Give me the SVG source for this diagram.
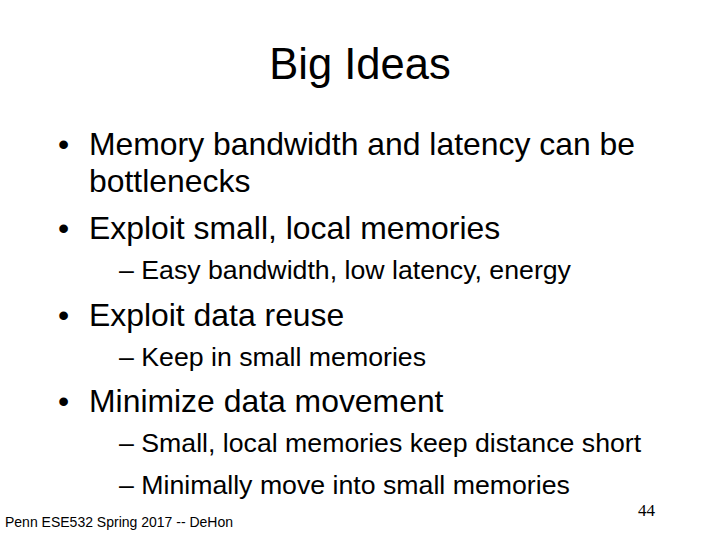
<svg xmlns="http://www.w3.org/2000/svg" width="720" height="540" viewBox="0 0 720 540">
<style>
text{font-family:"Liberation Sans",Arial,sans-serif;fill:#000}
.b{font-size:31.9px}
.s{font-size:26.7px}
</style>
<rect width="720" height="540" fill="#fff"/>
<text x="360" y="79" font-size="43.5" text-anchor="middle">Big Ideas</text>
<text class="b" x="58" y="155">•</text><text class="b" x="89" y="155">Memory bandwidth and latency can be</text>
<text class="b" x="89" y="192">bottlenecks</text>
<text class="b" x="58" y="239">•</text><text class="b" x="89" y="239">Exploit small, local memories</text>
<text class="s" x="119" y="279">– Easy bandwidth, low latency, energy</text>
<text class="b" x="58" y="326">•</text><text class="b" x="89" y="326">Exploit data reuse</text>
<text class="s" x="119" y="366">– Keep in small memories</text>
<text class="b" x="58" y="412">•</text><text class="b" x="89" y="412">Minimize data movement</text>
<text class="s" x="119" y="452">– Small, local memories keep distance short</text>
<text class="s" x="119" y="494">– Minimally move into small memories</text>
<text x="5" y="527" font-size="14">Penn ESE532 Spring 2017 -- DeHon</text>
<text x="638" y="516" font-size="17" style="font-family:'Liberation Serif',serif">44</text>
</svg>
